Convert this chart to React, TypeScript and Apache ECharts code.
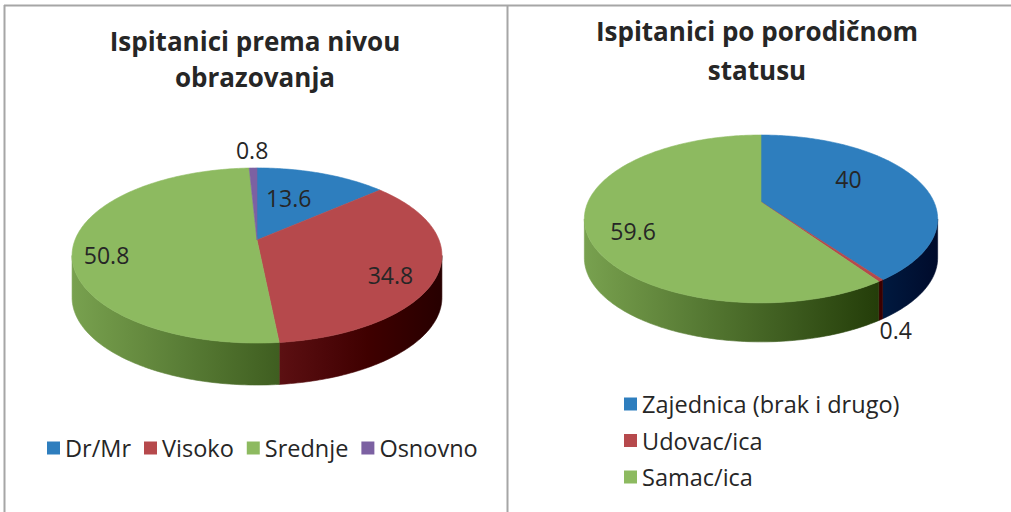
import React, { useEffect, useRef } from "react";
import * as echarts from "echarts";

// ---------- data ----------
const eduTitle = "Ispitanici prema nivou\nobrazovanja";
const eduCategories = ["Dr/Mr", "Visoko", "Srednje", "Osnovno"];
const eduValues = [13.6, 34.8, 50.8, 0.8];

const famTitle = "Ispitanici po porodičnom\nstatusu";
const famCategories = ["Zajednica (brak i drugo)", "Udovac/ica", "Samac/ica"];
const famValues = [40, 0.4, 59.6];

// ---------- styles / layout ----------
const eduColors = ["#2E7EBE", "#B6494C", "#8DBA60", "#7C61A2"];
const famColors = ["#2E7EBE", "#B6494C", "#8DBA60"];
// relative radius at which each inside label sits (layout only)
const eduLabelR = [0.45, 0.75, 0.82, 1];
const famLabelR = [0.55, 1, 0.74];

type Geom = { cx: number; cy: number; R: number; K: number; p: number; depth: number };
const eduGeom: Geom = { cx: 257, cy: 240, R: 182, K: 84.8, p: 0.177, depth: 42 };
const famGeom: Geom = { cx: 761, cy: 202, R: 173, K: 80.5, p: 0.202, depth: 39 };

const FONT = '"Open Sans", "Noto Sans", sans-serif';
const TEXT_COLOR = "#262626";

function proj(g: Geom, r: number, a: number): number[] {
  const u = r * Math.sin(a);
  const v = -r * Math.cos(a);
  const w = 1 - g.p * v;
  return [g.cx + (g.R * u) / w, g.cy + (g.K * v) / w];
}

function hexToRgb(h: string) {
  const n = parseInt(h.slice(1), 16);
  return [(n >> 16) & 255, (n >> 8) & 255, n & 255];
}
function shade(hex: string, f: number) {
  const g = 0.3 * (1 - f);
  const c = hexToRgb(hex).map((ch) =>
    Math.max(0, Math.min(255, Math.round(ch * f - (255 - ch) * g)))
  );
  return `rgb(${c[0]},${c[1]},${c[2]})`;
}

function makeRenderer(values: number[], colors: string[], labelR: number[], geom: Geom, idx: number) {
  return () => {
    const total = values.reduce((s, v) => s + v, 0);
    let acc = 0;
    for (let i = 0; i < idx; i++) acc += values[i];
    const s = (acc / total) * Math.PI * 2;
    const e = ((acc + values[idx]) / total) * Math.PI * 2;
    const color = colors[idx];
    const children: any[] = [];

    // side wall (front part only)
    const a0 = Math.acos(-geom.p);
    const a1 = Math.PI * 2 - a0;
    const ss = Math.max(s, a0);
    const ee = Math.min(e, a1);
    const rMax = geom.R / Math.sqrt(1 - geom.p * geom.p);
    if (ee > ss) {
      const n = Math.max(2, Math.ceil((ee - ss) / (Math.PI / 180)));
      const topPts: number[][] = [];
      for (let k = 0; k <= n; k++) topPts.push(proj(geom, 1, ss + ((ee - ss) * k) / n));
      const botPts = topPts.map((p) => [p[0], p[1] + geom.depth]).reverse();
      const stops: any[] = [];
      for (let k = 0; k <= 10; k++) {
        const t = k / 10;
        stops.push({ offset: t, color: shade(color, 0.88 - 0.58 * t) });
      }
      const grad = {
        type: "linear",
        global: true,
        x: geom.cx - rMax,
        y: 0,
        x2: geom.cx + rMax,
        y2: 0,
        colorStops: stops,
      };
      children.push({
        type: "polygon",
        shape: { points: topPts.concat(botPts) },
        style: { fill: grad, stroke: grad, lineWidth: 0.6 },
      });
    }

    // top face
    const n2 = Math.max(2, Math.ceil((e - s) / (Math.PI / 180)));
    const pts: number[][] = [[geom.cx, geom.cy]];
    for (let k = 0; k <= n2; k++) pts.push(proj(geom, 1, s + ((e - s) * k) / n2));
    children.push({
      type: "polygon",
      shape: { points: pts },
      style: { fill: color, stroke: color, lineWidth: 0.6 },
    });

    // label
    const mid = (s + e) / 2;
    const share = values[idx] / total;
    let lx: number, ly: number;
    if (share >= 0.05) {
      const p = proj(geom, labelR[idx], mid);
      lx = p[0];
      ly = p[1] + (Math.cos(mid) > 0 ? -10 : 10);
    } else {
      const rim = proj(geom, 1, mid);
      const dx = rim[0] - geom.cx;
      const dy = rim[1] - geom.cy;
      const len = Math.sqrt(dx * dx + dy * dy) || 1;
      lx = rim[0] + (dx / len) * 18;
      ly = rim[1] + (dy / len) * 18 + (Math.cos(mid) < 0 ? geom.depth : 0);
    }
    children.push({
      type: "text",
      z2: 100,
      style: {
        text: String(values[idx]),
        x: lx,
        y: ly,
        fill: TEXT_COLOR,
        font: `23px ${FONT}`,
        textAlign: "center",
        textVerticalAlign: "middle",
      },
    });

    return { type: "group", children };
  };
}

function buildSeries(cats: string[], values: number[], colors: string[], labelR: number[], geom: Geom) {
  return cats.map((name, i) => ({
    type: "custom",
    name,
    coordinateSystem: "none",
    itemStyle: { color: colors[i] },
    data: [values[i]],
    renderItem: makeRenderer(values, colors, labelR, geom, i),
  }));
}

export default function App() {
  const ref = useRef<HTMLDivElement>(null);
  useEffect(() => {
    if (!ref.current) return;
    const chart = echarts.init(ref.current, null, { renderer: "svg" });
    const legendText = { fontFamily: FONT, fontSize: 23.5, color: TEXT_COLOR, lineHeight: 24 };
    chart.setOption({
      animation: false,
      backgroundColor: "#ffffff",
      graphic: [
        { type: "line", shape: { x1: 4, y1: 5.5, x2: 1011, y2: 5.5 }, style: { stroke: "#A6A6A6", lineWidth: 2 } },
        { type: "line", shape: { x1: 4.5, y1: 5, x2: 4.5, y2: 512 }, style: { stroke: "#A6A6A6", lineWidth: 2 } },
        { type: "line", shape: { x1: 507.5, y1: 5, x2: 507.5, y2: 512 }, style: { stroke: "#A6A6A6", lineWidth: 2 } },
        {
          type: "text",
          x: 255,
          y: 23,
          style: {
            text: eduTitle,
            font: `bold 26px ${FONT}`,
            fill: TEXT_COLOR,
            textAlign: "center",
            textVerticalAlign: "top",
            lineHeight: 36,
          },
        },
        {
          type: "text",
          x: 757,
          y: 11,
          style: {
            text: famTitle,
            font: `bold 26px ${FONT}`,
            fill: TEXT_COLOR,
            textAlign: "center",
            textVerticalAlign: "top",
            lineHeight: 39,
          },
        },
      ],
      legend: [
        {
          data: eduCategories,
          orient: "horizontal",
          left: 42,
          top: 431,
          itemWidth: 13,
          itemHeight: 13,
          itemGap: 13,
          icon: "rect",
          selectedMode: false,
          textStyle: legendText,
        },
        {
          data: famCategories,
          orient: "vertical",
          left: 619,
          top: 387,
          itemWidth: 13,
          itemHeight: 13,
          itemGap: 12.5,
          icon: "rect",
          selectedMode: false,
          textStyle: legendText,
        },
      ],
      series: [
        ...buildSeries(eduCategories, eduValues, eduColors, eduLabelR, eduGeom),
        ...buildSeries(famCategories, famValues, famColors, famLabelR, famGeom),
      ],
    });
    return () => chart.dispose();
  }, []);
  return (
    <div
      ref={ref}
      style={{ position: "absolute", left: 0, top: 0, width: 1011, height: 512, background: "#fff" }}
    />
  );
}
